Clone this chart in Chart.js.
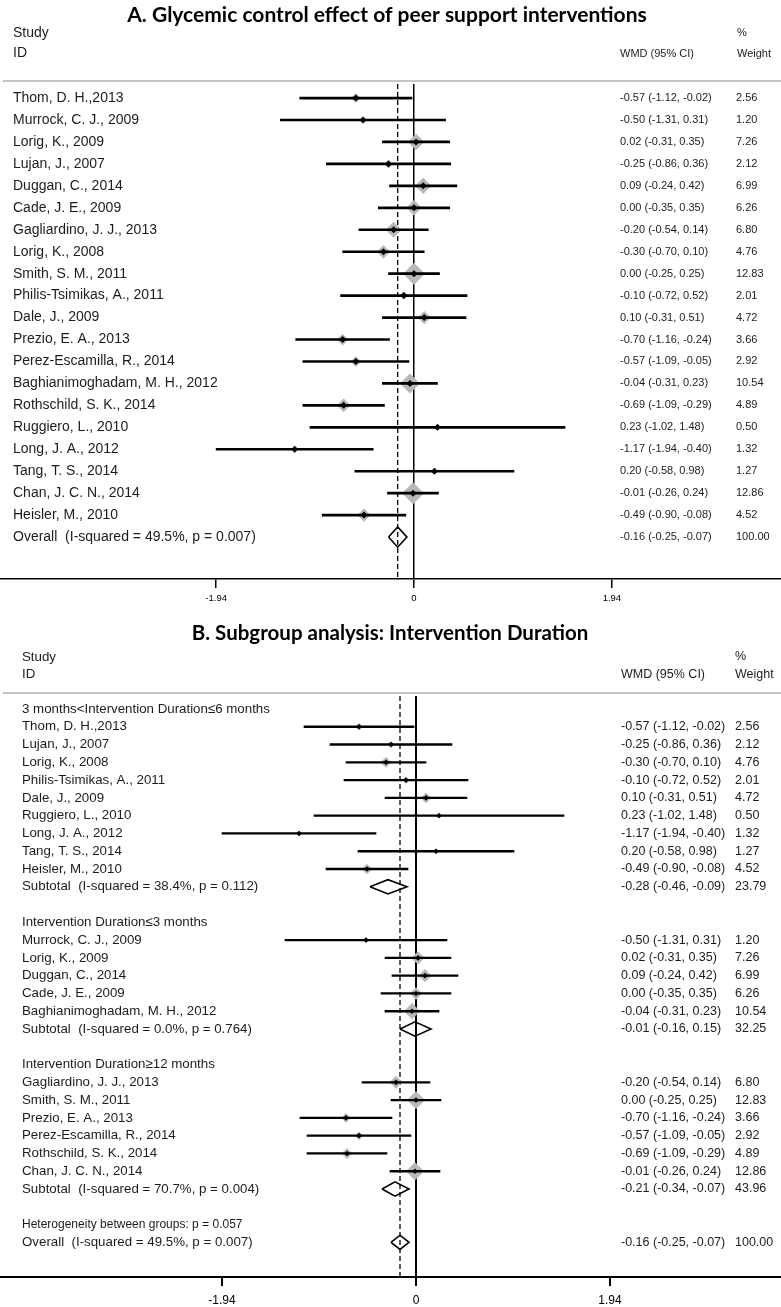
<!DOCTYPE html>
<html>
<head>
<meta charset="utf-8">
<script src="https://cdn.jsdelivr.net/npm/chart.js@4.4.1/dist/chart.umd.min.js"></script>
<style>
  body { margin: 0; background: #fff; }
  canvas { display: block; }
</style>
</head>
<body>
<canvas id="panelA" width="781" height="612"></canvas>
<canvas id="panelB" width="781" height="695"></canvas>
<script>
// study level results (WMD, 95% CI, % weight)
const studyNames = [
  'Thom, D. H.,2013', 'Murrock, C. J., 2009', 'Lorig, K., 2009', 'Lujan, J., 2007',
  'Duggan, C., 2014', 'Cade, J. E., 2009', 'Gagliardino, J. J., 2013', 'Lorig, K., 2008',
  'Smith, S. M., 2011', 'Philis-Tsimikas, A., 2011', 'Dale, J., 2009', 'Prezio, E. A., 2013',
  'Perez-Escamilla, R., 2014', 'Baghianimoghadam, M. H., 2012', 'Rothschild, S. K., 2014',
  'Ruggiero, L., 2010', 'Long, J. A., 2012', 'Tang, T. S., 2014', 'Chan, J. C. N., 2014',
  'Heisler, M., 2010'
];
const wmd     = [-0.57, -0.50, 0.02, -0.25, 0.09, 0.00, -0.20, -0.30, 0.00, -0.10, 0.10, -0.70, -0.57, -0.04, -0.69, 0.23, -1.17, 0.20, -0.01, -0.49];
const ciLow   = [-1.12, -1.31, -0.31, -0.86, -0.24, -0.35, -0.54, -0.70, -0.25, -0.72, -0.31, -1.16, -1.09, -0.31, -1.09, -1.02, -1.94, -0.58, -0.26, -0.90];
const ciHigh  = [-0.02, 0.31, 0.35, 0.36, 0.42, 0.35, 0.14, 0.10, 0.25, 0.52, 0.51, -0.24, -0.05, 0.23, -0.29, 1.48, -0.40, 0.98, 0.24, -0.08];
const weights = [2.56, 1.20, 7.26, 2.12, 6.99, 6.26, 6.80, 4.76, 12.83, 2.01, 4.72, 3.66, 2.92, 10.54, 4.89, 0.50, 1.32, 1.27, 12.86, 4.52];

const overallLabel = 'Overall  (I-squared = 49.5%, p = 0.007)';
const overall = [-0.16, -0.25, -0.07, 100.00]; // wmd, low, high, weight

// subgroups by intervention duration
const groupTitles = ['3 months<Intervention Duration\u22646 months', 'Intervention Duration\u22643 months', 'Intervention Duration\u226512 months'];
const groupStudies = [
  ['Thom, D. H.,2013', 'Lujan, J., 2007', 'Lorig, K., 2008', 'Philis-Tsimikas, A., 2011', 'Dale, J., 2009',
   'Ruggiero, L., 2010', 'Long, J. A., 2012', 'Tang, T. S., 2014', 'Heisler, M., 2010'],
  ['Murrock, C. J., 2009', 'Lorig, K., 2009', 'Duggan, C., 2014', 'Cade, J. E., 2009', 'Baghianimoghadam, M. H., 2012'],
  ['Gagliardino, J. J., 2013', 'Smith, S. M., 2011', 'Prezio, E. A., 2013', 'Perez-Escamilla, R., 2014',
   'Rothschild, S. K., 2014', 'Chan, J. C. N., 2014']
];
const subtotalLabels = ['Subtotal  (I-squared = 38.4%, p = 0.112)', 'Subtotal  (I-squared = 0.0%, p = 0.764)', 'Subtotal  (I-squared = 70.7%, p = 0.004)'];
const subtotalWmd    = [-0.28, -0.01, -0.21];
const subtotalLow    = [-0.46, -0.16, -0.34];
const subtotalHigh   = [-0.09, 0.15, -0.07];
const subtotalWeight = [23.79, 32.25, 43.96];
const heterogeneityNote = 'Heterogeneity between groups: p = 0.057';

const xTicks = [-1.94, 0, 1.94];

const studyRow = i => ({ type: 'study', label: studyNames[i], est: wmd[i], lo: ciLow[i], hi: ciHigh[i], w: weights[i] });
const overallRow = { type: 'summary', label: overallLabel, est: overall[0], lo: overall[1], hi: overall[2], w: overall[3] };

const rowsA = studyNames.map((n, i) => studyRow(i)).concat([overallRow]);

const rowsB = [];
groupTitles.forEach((t, g) => {
  rowsB.push({ type: 'group', label: t });
  groupStudies[g].forEach(n => rowsB.push(studyRow(studyNames.indexOf(n))));
  rowsB.push({ type: 'summary', label: subtotalLabels[g], est: subtotalWmd[g], lo: subtotalLow[g], hi: subtotalHigh[g], w: subtotalWeight[g] });
  rowsB.push({ type: 'blank' });
});
rowsB.push({ type: 'note', label: heterogeneityNote });
rowsB.push(overallRow);

function hasFont(name) {
  const c = document.createElement('canvas').getContext('2d');
  c.font = '40px monospace';
  const a = c.measureText('Philis-Tsimikas, 2011').width;
  c.font = '40px "' + name + '", monospace';
  return c.measureText('Philis-Tsimikas, 2011').width !== a;
}
const narrow = hasFont('Liberation Sans Narrow');

const fmt = v => v.toFixed(2);
const ciText = r => fmt(r.est) + ' (' + fmt(r.lo) + ', ' + fmt(r.hi) + ')';

function textPlugin(cfg, rows) {
  return {
    id: 'forestText',
    afterDraw(chart) {
      const ctx = chart.ctx;
      const y = chart.scales.y;
      ctx.save();
      ctx.textBaseline = 'middle';
      ctx.textAlign = 'center';
      ctx.font = cfg.titleFont;
      ctx.fillStyle = '#000';
      ctx.fillText(cfg.title, cfg.titleX, cfg.titleY);
      ctx.fillStyle = '#1c1c1c';
      ctx.textAlign = 'left';
      cfg.headers.forEach(h => {
        ctx.font = h[3];
        ctx.fillText(h[0], h[1], h[2]);
      });
      ctx.strokeStyle = '#c4c4c4';
      ctx.lineWidth = 2;
      ctx.beginPath();
      ctx.moveTo(3, cfg.ruleY);
      ctx.lineTo(781, cfg.ruleY);
      ctx.stroke();
      rows.forEach((r, i) => {
        const py = y.getPixelForValue(i);
        if (r.label) {
          ctx.font = r.type === 'note' ? cfg.noteFont : cfg.labelFont;
          ctx.fillText(r.label, cfg.labelX, py);
        }
        if (r.est !== undefined) {
          ctx.font = cfg.numFont;
          ctx.fillText(ciText(r), cfg.ciX, py);
          ctx.fillText(fmt(r.w), cfg.wX, py);
        }
      });
      ctx.restore();
    }
  };
}

function forest(id, rows, cfg) {
  const idx = rows.map((r, i) => Object.assign({ i: i }, r));
  const studies = idx.filter(r => r.type === 'study');
  const summaries = idx.filter(r => r.type === 'summary');

  const datasets = [
    {
      type: 'line',
      data: [{ x: overall[0], y: cfg.yMin }, { x: overall[0], y: cfg.yMax }],
      borderColor: '#000', borderWidth: 1.3, borderDash: [5, 3], pointRadius: 0, order: 4
    },
    {
      type: 'scatter',
      data: studies.map(r => ({ x: r.est, y: r.i })),
      pointStyle: 'rectRot',
      pointRadius: studies.map(r => cfg.boxScale * Math.sqrt(r.w)),
      pointHoverRadius: studies.map(r => cfg.boxScale * Math.sqrt(r.w)),
      backgroundColor: '#b8b8b8', borderWidth: 0, order: 3
    },
    {
      type: 'bar',
      indexAxis: 'y',
      data: studies.map(r => ({ x: [r.lo, r.hi], y: r.i })),
      backgroundColor: '#000', borderWidth: 0, barThickness: cfg.ciWidth, grouped: false, order: 2
    },
    {
      type: 'scatter',
      data: studies.map(r => ({ x: r.est, y: r.i })),
      pointStyle: 'rectRot', pointRadius: cfg.dot, backgroundColor: '#000', borderWidth: 0, order: 1
    }
  ];
  summaries.forEach(r => {
    datasets.push({
      type: 'line',
      data: [
        { x: r.lo, y: r.i }, { x: r.est, y: r.i - cfg.dh }, { x: r.hi, y: r.i },
        { x: r.est, y: r.i + cfg.dh }, { x: r.lo, y: r.i }
      ],
      borderColor: '#000', borderWidth: 1.6, pointRadius: 0, fill: false, tension: 0, order: 0
    });
  });

  return new Chart(document.getElementById(id), {
    type: 'scatter',
    data: { datasets: datasets },
    options: {
      responsive: false,
      animation: false,
      devicePixelRatio: 1,
      layout: { autoPadding: false, padding: { top: 84, left: 0, right: 0, bottom: 0 } },
      plugins: { legend: { display: false }, tooltip: { enabled: false } },
      scales: {
        x: {
          type: 'linear',
          offset: false,
          min: cfg.xMin, max: cfg.xMax,
          afterBuildTicks: s => { s.ticks = xTicks.map(v => ({ value: v })); },
          afterFit: s => { s.height = cfg.axisHeight; },
          border: { display: true, color: '#000', width: cfg.axisWidth },
          grid: {
            offset: false,
            color: c => (c.tick && c.tick.value === 0) ? '#000' : 'rgba(0,0,0,0)',
            lineWidth: cfg.axisWidth,
            tickColor: '#000',
            tickLength: 9
          },
          ticks: {
            autoSkip: false, maxRotation: 0, color: '#000',
            padding: cfg.tickPad,
            font: { family: cfg.tickFamily, size: cfg.tickSize },
            callback: v => v === 0 ? '0' : v.toFixed(2)
          }
        },
        y: {
          type: 'linear', reverse: true, offset: false, grid: { offset: false },
          min: cfg.yMin, max: cfg.yMax, display: false
        }
      }
    },
    plugins: [textPlugin(cfg, rows)]
  });
}

const labelB = narrow ? '14.5px "Liberation Sans Narrow"' : '13.3px "Liberation Sans"';
const noteB = narrow ? '13.5px "Liberation Sans Narrow"' : '12px "Liberation Sans"';

forest('panelA', rowsA, {
  title: 'A. Glycemic control effect of peer support interventions',
  titleFont: 'bold 21px Lato', titleX: 387, titleY: 15,
  headers: [
    ['Study', 13, 33, '14px "Liberation Sans"'], ['ID', 13, 53, '14px "Liberation Sans"'],
    ['%', 737, 33, '11px "Liberation Sans"'], ['WMD (95% CI)', 620, 54, '11px "Liberation Sans"'],
    ['Weight', 737, 54, '11px "Liberation Sans"']
  ],
  ruleY: 81,
  labelX: 13, ciX: 620, wX: 736,
  labelFont: '14px "Liberation Sans"', noteFont: '12px "Liberation Sans"', numFont: '11px "Liberation Sans"',
  xMin: -4.059, xMax: 3.598, yMin: -0.64, yMax: 21.91,
  axisHeight: 33, axisWidth: 1.5, tickPad: 5, tickFamily: 'Liberation Sans', tickSize: 9.5,
  ciWidth: 2, boxScale: 3.07, dot: 3.5, dh: 0.46
});

forest('panelB', rowsB, {
  title: 'B. Subgroup analysis: Intervention Duration',
  titleFont: 'bold 20.5px Lato', titleX: 390, titleY: 21,
  headers: [
    ['Study', 22, 45, labelB], ['ID', 22, 62, labelB],
    ['%', 735, 45, '12.5px "Liberation Sans"'], ['WMD (95% CI)', 621, 63, '12.5px "Liberation Sans"'],
    ['Weight', 735, 63, '12.5px "Liberation Sans"']
  ],
  ruleY: 81,
  labelX: 22, ciX: 621, wX: 735,
  labelFont: labelB, noteFont: noteB, numFont: '12.5px "Liberation Sans"',
  xMin: -4.16, xMax: 3.65, yMin: -0.731, yMax: 31.95,
  axisHeight: 30, axisWidth: 2, tickPad: 7, tickFamily: 'Liberation Sans', tickSize: 12,
  ciWidth: 1.7, boxScale: 2.5, dot: 2.8, dh: 0.4
});
</script>
</body>
</html>
